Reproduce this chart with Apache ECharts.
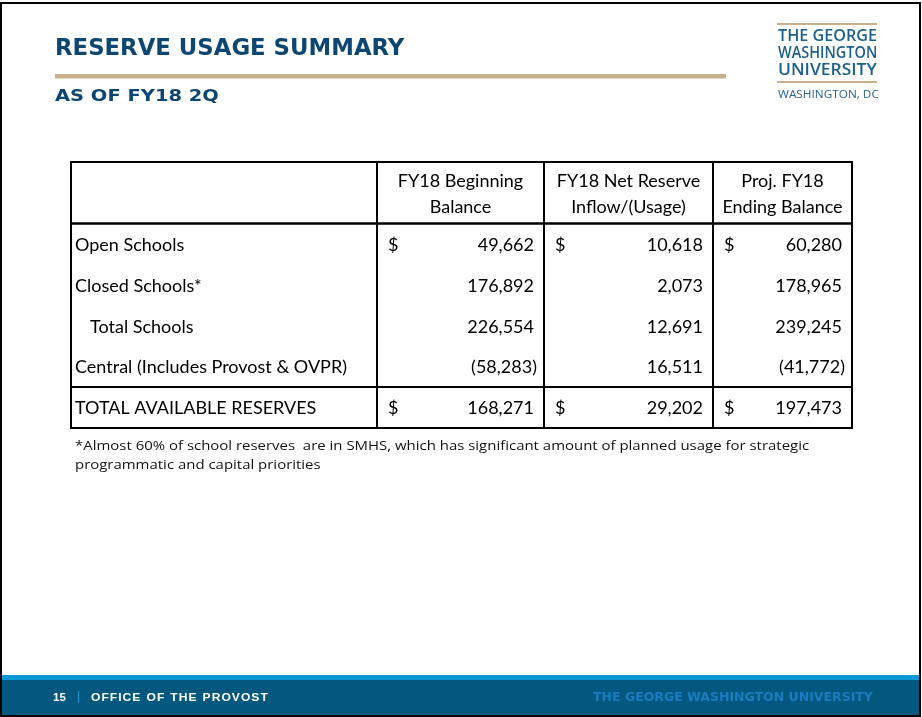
<!DOCTYPE html>
<html>
<head>
<meta charset="utf-8">
<title>Reserve Usage Summary</title>
<script src="https://cdn.jsdelivr.net/npm/echarts@6/dist/echarts.min.js"></script>
<style>
  html, body { margin: 0; padding: 0; background: #fff; }
  #main { width: 922px; height: 717px; }
</style>
</head>
<body>
<div id="main"></div>
<script>
// table content
const rowLabels = ['Open Schools', 'Closed Schools*', 'Total Schools', 'Central (Includes Provost & OVPR)', 'TOTAL AVAILABLE RESERVES'];
const subtotalRows = [2];
const colHeaders = ['FY18 Beginning\nBalance', 'FY18 Net Reserve\nInflow/(Usage)', 'Proj. FY18\nEnding Balance'];
const beginningBalance = [49662, 176892, 226554, -58283, 168271];
const netInflow = [10618, 2073, 12691, 16511, 29202];
const endingBalance = [60280, 178965, 239245, -41772, 197473];
const dollarRows = [0, 4];
const footnote = ['*Almost 60% of school reserves  are in SMHS, which has significant amount of planned usage for strategic',
                  'programmatic and capital priorities'];

// table layout (axis units)
const colEdges = [0, 306, 473, 642, 781];
const rowEdges = [0, 1.5, 2.5, 3.5, 4.5, 5.5, 6.5];
const sectionEdges = [0, 1.5, 5.5, 6.5];

const navy = '#0c4671';
const gold = '#c8b08a';
const logoBlue = '#1d5f8e';
const tableFont = 'Lato';

function fmt(v) {
  const s = Math.abs(v).toLocaleString('en-US');
  return v < 0 ? '(' + s + ')' : s;
}

const cellData = [];
colHeaders.forEach(function (h, i) {
  cellData.push({ value: [i + 1, 0], kind: 'header', text: h });
});
const columns = [beginningBalance, netInflow, endingBalance];
rowLabels.forEach(function (lbl, r) {
  cellData.push({ value: [0, r + 1], kind: 'label', text: lbl, indent: subtotalRows.indexOf(r) >= 0 });
  columns.forEach(function (col, c) {
    cellData.push({ value: [c + 1, r + 1], kind: 'num', text: fmt(col[r]), neg: col[r] < 0, dollar: dollarRows.indexOf(r) >= 0 });
  });
});

const frameData = [];
for (let c = 0; c < 4; c++) {
  for (let s = 0; s < 3; s++) frameData.push([c, s]);
}

function renderCell(params, api) {
  const cell = cellData[params.dataIndex];
  const c = api.value(0), r = api.value(1);
  const tl = api.coord([colEdges[c], rowEdges[r]]);
  const br = api.coord([colEdges[c + 1], rowEdges[r + 1]]);
  const cy = (tl[1] + br[1]) / 2;
  const base = { fontFamily: tableFont, fontSize: 18, fill: '#000', verticalAlign: 'middle' };
  const children = [];
  if (cell.kind === 'header') {
    children.push({ type: 'text', style: Object.assign({}, base, {
      text: cell.text, x: (tl[0] + br[0]) / 2, y: cy + 1, align: 'center', lineHeight: 26 }) });
  } else if (cell.kind === 'label') {
    children.push({ type: 'text', style: Object.assign({}, base, {
      text: cell.text, x: tl[0] + (cell.indent ? 19 : 4), y: cy + 1, align: 'left' }) });
  } else {
    children.push({ type: 'text', style: Object.assign({}, base, {
      text: cell.text, x: br[0] - (cell.neg ? 7 : 10), y: cy + 1, align: 'right' }) });
    if (cell.dollar) {
      children.push({ type: 'text', style: Object.assign({}, base, {
        text: '$', x: tl[0] + 11, y: cy + 1, align: 'left' }) });
    }
  }
  return { type: 'group', children: children };
}

function renderFrame(params, api) {
  const c = api.value(0), s = api.value(1);
  const tl = api.coord([colEdges[c], sectionEdges[s]]);
  const br = api.coord([colEdges[c + 1], sectionEdges[s + 1]]);
  return {
    type: 'rect',
    shape: { x: tl[0], y: tl[1], width: br[0] - tl[0], height: br[1] - tl[1] },
    style: { fill: 'none', stroke: '#000', lineWidth: 2 }
  };
}

const chart = echarts.init(document.getElementById('main'));
const option = {
  backgroundColor: '#fff',
  animation: false,
  title: [
    { text: 'RESERVE USAGE SUMMARY', left: 55, top: 38, padding: 0,
      textStyle: { fontFamily: 'DejaVu Sans', fontWeight: 'bold', fontSize: 22.8, color: navy } }
  ],
  grid: { left: 71, top: 162, width: 781, height: 266 },
  xAxis: { type: 'value', min: 0, max: 781, show: false },
  yAxis: { type: 'value', min: 0, max: 6.5, inverse: true, show: false },
  series: [
    { type: 'custom', name: 'frame', data: frameData, renderItem: renderFrame, silent: true },
    { type: 'custom', name: 'cells', data: cellData, renderItem: renderCell, silent: true }
  ],
  graphic: [
    // slide border
    { type: 'rect', shape: { x: 1, y: 3, width: 919, height: 713 },
      style: { fill: 'none', stroke: '#000', lineWidth: 2 }, z: 100 },
    // subtitle
    { type: 'text', x: 55, y: 88, scaleX: 1.18, style: { text: 'AS OF FY18 2Q', fontFamily: 'DejaVu Sans', fontWeight: 'bold', fontSize: 16.5, fill: navy } },
    // gold rule under title
    { type: 'rect', shape: { x: 55, y: 74, width: 671, height: 4.5 }, style: { fill: gold } },
    // logo
    { type: 'rect', shape: { x: 777, y: 23, width: 100, height: 2 }, style: { fill: gold } },
    { type: 'text', x: 778, y: 29, scaleX: 99 / 95, style: { text: 'THE GEORGE', fontFamily: 'Open Sans', fontWeight: 600, fontSize: 15.5, fill: logoBlue } },
    { type: 'text', x: 778, y: 46, scaleX: 99 / 106, style: { text: 'WASHINGTON', fontFamily: 'Open Sans', fontWeight: 600, fontSize: 15.5, fill: logoBlue } },
    { type: 'text', x: 778, y: 63, scaleX: 99 / 88, style: { text: 'UNIVERSITY', fontFamily: 'Open Sans', fontWeight: 600, fontSize: 15.5, fill: logoBlue } },
    { type: 'rect', shape: { x: 777, y: 81, width: 100, height: 2 }, style: { fill: gold } },
    { type: 'text', x: 778, y: 90, scaleX: 99 / 84, style: { text: 'WASHINGTON, DC', fontFamily: 'Open Sans', fontSize: 10, fill: '#2a6189' } },
    // footnote
    { type: 'text', x: 75, y: 440, scaleX: 1.15, style: { text: footnote[0], fontFamily: 'Open Sans', fontSize: 13, fill: '#111' } },
    { type: 'text', x: 75, y: 459, scaleX: 1.15, style: { text: footnote[1], fontFamily: 'Open Sans', fontSize: 13, fill: '#111' } },
    // footer
    { type: 'rect', shape: { x: 2, y: 675, width: 918, height: 5 }, style: { fill: '#0a97d4' } },
    { type: 'rect', shape: { x: 2, y: 680, width: 918, height: 36 }, style: { fill: '#02587f' } },
    { type: 'text', left: 53, top: 692, style: { text: '15', fontFamily: 'Liberation Sans', fontWeight: 'bold', fontSize: 11.5, fill: '#fff' } },
    { type: 'text', left: 77, top: 691, style: { text: '|', fontFamily: 'Liberation Sans', fontSize: 12, fill: '#3a9ad0' } },
    { type: 'text', x: 91, y: 692, scaleX: 1.1, style: { text: 'OFFICE OF THE PROVOST'.split(' ').map(function (w) { return w.split('').join('\u200A'); }).join('\u2002'), fontFamily: 'Liberation Sans', fontWeight: 'bold', fontSize: 11, fill: '#fff' } },
    { type: 'text', x: 593, y: 691, style: { text: 'THE GEORGE WASHINGTON UNIVERSITY', fontFamily: 'DejaVu Sans', fontWeight: 'bold', fontSize: 12.5, fill: '#1b7cc2' } }
  ]
};
chart.setOption(option);
</script>
</body>
</html>
